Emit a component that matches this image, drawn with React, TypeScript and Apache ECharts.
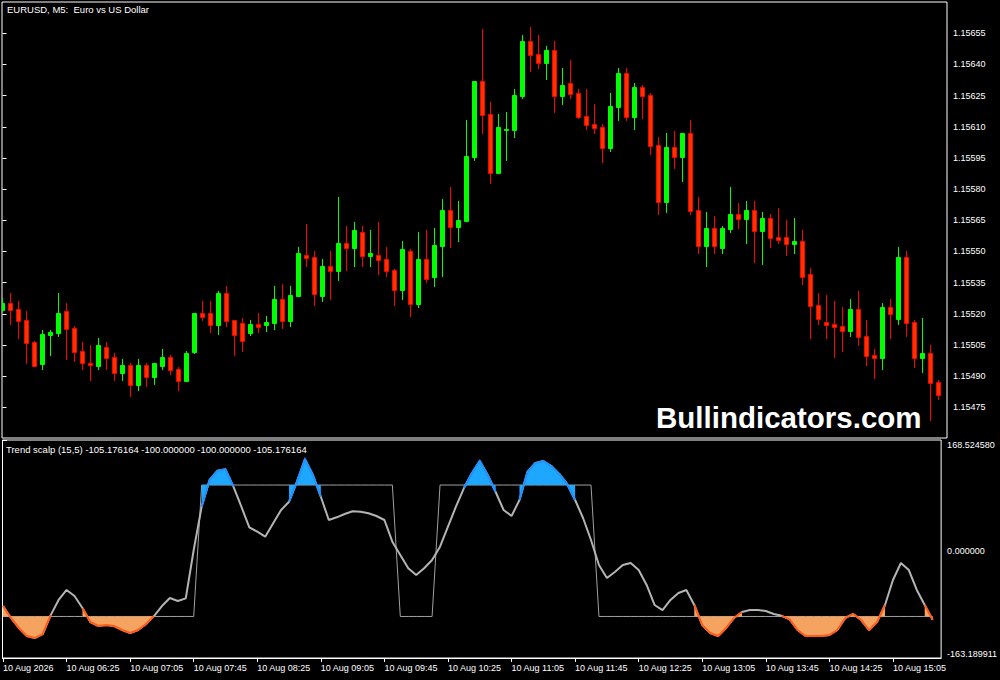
import React, { useEffect, useRef } from "react";
import * as echarts from "echarts";

// ---- price data (M5 bars, 10 Aug 05:45 .. 15:30) ----
const opens = [
  1.155218, 1.155251, 1.155223, 1.15517, 1.155064, 1.15496, 1.1551, 1.155109, 1.155214, 1.155132,
  1.15502, 1.154963, 1.15495, 1.155039, 1.154991, 1.154917, 1.154954, 1.154859, 1.154954, 1.154897,
  1.15495, 1.154992, 1.154934, 1.154878, 1.155018, 1.155204, 1.155204, 1.155148, 1.1553, 1.15517,
  1.155156, 1.155108, 1.155151, 1.155148, 1.155157, 1.155271, 1.155167, 1.155287, 1.155483, 1.155474,
  1.155287, 1.15543, 1.155408, 1.155541, 1.155518, 1.155594, 1.15548, 1.155483, 1.155464, 1.155411,
  1.155316, 1.155502, 1.155249, 1.155464, 1.155379, 1.155528, 1.1557, 1.155619, 1.155648, 1.155956,
  1.156321, 1.156162, 1.155879, 1.156086, 1.156086, 1.15625, 1.156513, 1.156451, 1.156409, 1.15647,
  1.15625, 1.156311, 1.156263, 1.156152, 1.156114, 1.156099, 1.156, 1.156197, 1.156359, 1.156149,
  1.156292, 1.156253, 1.156013, 1.15574, 1.156003, 1.155956, 1.15607, 1.1557, 1.155528, 1.155613,
  1.155518, 1.15561, 1.155681, 1.155658, 1.1557, 1.1556, 1.155661, 1.15557, 1.15557, 1.155538,
  1.155551, 1.155392, 1.155243, 1.155161, 1.155151, 1.155142, 1.155119, 1.155223, 1.155093, 1.155002,
  1.154989, 1.155233, 1.155177, 1.155474, 1.155161, 1.154989, 1.155013, 1.154873,
];
const highs = [
  1.155276, 1.1553, 1.155262, 1.155214, 1.155069, 1.155122, 1.155122, 1.1553, 1.155252, 1.155141,
  1.155064, 1.15505, 1.155084, 1.155064, 1.155012, 1.154983, 1.154963, 1.154983, 1.154963, 1.154963,
  1.155031, 1.155002, 1.154944, 1.155021, 1.155204, 1.155262, 1.155262, 1.15531, 1.155334, 1.15517,
  1.15518, 1.15517, 1.155204, 1.15519, 1.155334, 1.155344, 1.155334, 1.155522, 1.155632, 1.155502,
  1.155464, 1.155502, 1.155762, 1.155623, 1.155642, 1.155623, 1.155604, 1.155642, 1.155522, 1.155417,
  1.155551, 1.155512, 1.155594, 1.155604, 1.155613, 1.155753, 1.15581, 1.155743, 1.156133, 1.156321,
  1.156571, 1.15622, 1.156162, 1.156171, 1.156282, 1.156542, 1.15658, 1.156542, 1.156489, 1.156513,
  1.156383, 1.156422, 1.156282, 1.156282, 1.15621, 1.156114, 1.156263, 1.156383, 1.156383, 1.156311,
  1.156301, 1.156263, 1.156053, 1.15607, 1.15608, 1.15607, 1.156133, 1.155762, 1.15569, 1.155671,
  1.155623, 1.15581, 1.155733, 1.155743, 1.155743, 1.15569, 1.155681, 1.155709, 1.155652, 1.155661,
  1.155604, 1.155421, 1.1553, 1.155291, 1.155262, 1.155233, 1.155271, 1.15531, 1.15517, 1.155031,
  1.155252, 1.155271, 1.155522, 1.155502, 1.15517, 1.15518, 1.155051, 1.154882,
];
const lows = [
  1.155209, 1.155146, 1.155079, 1.15496, 1.154947, 1.154931, 1.154999, 1.15509, 1.154979, 1.15497,
  1.154931, 1.154877, 1.154931, 1.154931, 1.154877, 1.154877, 1.1548, 1.15483, 1.154849, 1.154859,
  1.154931, 1.154907, 1.15483, 1.154877, 1.155008, 1.155167, 1.155108, 1.1551, 1.155138, 1.154999,
  1.155016, 1.155093, 1.155108, 1.155113, 1.155122, 1.155128, 1.155138, 1.155286, 1.155427, 1.155239,
  1.155258, 1.155268, 1.155359, 1.155408, 1.155427, 1.155427, 1.155427, 1.155388, 1.155379, 1.155239,
  1.155268, 1.155186, 1.15523, 1.15535, 1.155331, 1.155379, 1.155518, 1.155547, 1.155648, 1.155937,
  1.156067, 1.155826, 1.155879, 1.155937, 1.156048, 1.156235, 1.156365, 1.15638, 1.156327, 1.156168,
  1.156207, 1.156235, 1.156139, 1.156086, 1.156067, 1.155927, 1.15598, 1.15613, 1.15613, 1.156086,
  1.156139, 1.155966, 1.155677, 1.155687, 1.155899, 1.155836, 1.155677, 1.155489, 1.155427, 1.155489,
  1.155489, 1.15559, 1.15561, 1.155538, 1.155446, 1.155437, 1.155518, 1.155538, 1.15548, 1.155489,
  1.15534, 1.15508, 1.155148, 1.15508, 1.154989, 1.155018, 1.15509, 1.155047, 1.15495, 1.154888,
  1.154931, 1.15508, 1.155148, 1.15509, 1.154941, 1.154917, 1.154683, 1.154787,
];
const closes = [
  1.155252, 1.15522, 1.155167, 1.155061, 1.15495, 1.155103, 1.155111, 1.155204, 1.155128, 1.155018,
  1.154962, 1.154952, 1.15505, 1.154989, 1.154917, 1.154954, 1.154859, 1.154954, 1.154897, 1.154963,
  1.154992, 1.154931, 1.154878, 1.155012, 1.155204, 1.155186, 1.155148, 1.1553, 1.155167, 1.1551,
  1.155069, 1.155151, 1.155138, 1.155161, 1.155271, 1.155167, 1.155291, 1.155493, 1.15547, 1.155297,
  1.15543, 1.155408, 1.155541, 1.155518, 1.155604, 1.15548, 1.155493, 1.155461, 1.155408, 1.155316,
  1.155512, 1.155249, 1.155464, 1.155369, 1.155531, 1.1557, 1.155619, 1.155652, 1.15596, 1.156321,
  1.156158, 1.155879, 1.156099, 1.15609, 1.156253, 1.156513, 1.156447, 1.156409, 1.15647, 1.15625,
  1.156301, 1.156259, 1.156149, 1.15611, 1.156096, 1.156, 1.1562, 1.156359, 1.156149, 1.156292,
  1.15625, 1.156009, 1.15574, 1.156003, 1.155956, 1.15607, 1.155696, 1.155528, 1.155613, 1.155528,
  1.155613, 1.155681, 1.155658, 1.1557, 1.1556, 1.155661, 1.155566, 1.155557, 1.155538, 1.155551,
  1.155379, 1.155239, 1.155177, 1.155148, 1.155138, 1.155119, 1.155223, 1.15509, 1.154999, 1.154989,
  1.155233, 1.155201, 1.155474, 1.155157, 1.154989, 1.155013, 1.154869, 1.154811,
];

// ---- Trend scalp (15,5) indicator ----
const trendValues = [
  -84.1, -102.3, -117.5, -129.7, -132.8, -126.7, -98.0, -74.9, -59.7, -68.9,
  -87.1, -108.4, -114.5, -113.0, -114.5, -120.6, -125.2, -120.6, -111.5, -99.3,
  -84.1, -71.9, -76.5, -72.4, 1.1, 67.0, 107.7, 121.8, 123.9, 97.5,
  67.0, 35.7, 29.0, 21.4, 41.8, 62.0, 74.6, 105.1, 139.2, 115.3,
  82.2, 46.8, 50.9, 55.9, 60.0, 59.4, 57.0, 52.9, 46.8, 13.8,
  -6.5, -26.7, -36.9, -26.7, -14.1, 6.2, 36.6, 67.0, 95.0, 117.8,
  136.6, 115.3, 89.4, 62.0, 52.9, 77.2, 119.8, 133.5, 136.6, 129.0,
  116.8, 101.6, 77.2, 49.8, 16.4, -21.7, -41.5, -32.3, -21.7, -18.6,
  -29.3, -52.1, -82.5, -90.2, -74.9, -64.3, -59.7, -82.5, -113.0, -125.2,
  -129.7, -117.5, -102.3, -93.2, -90.2, -90.2, -91.7, -96.2, -99.0, -104.5,
  -120.6, -129.7, -129.7, -129.7, -128.2, -120.6, -102.3, -96.2, -105.4, -120.6,
  -108.4, -82.5, -44.5, -18.6, -29.3, -59.7, -82.5, -105.176164,
];
const squareValues = [
  -100, -100, -100, -100, -100, -100, -100, -100, -100, -100,
  -100, -100, -100, -100, -100, -100, -100, -100, -100, -100,
  -100, -100, -100, -100, -100, 100, 100, 100, 100, 100,
  100, 100, 100, 100, 100, 100, 100, 100, 100, 100,
  100, 100, 100, 100, 100, 100, 100, 100, 100, 100,
  -100, -100, -100, -100, -100, 100, 100, 100, 100, 100,
  100, 100, 100, 100, 100, 100, 100, 100, 100, 100,
  100, 100, 100, 100, 100, -100, -100, -100, -100, -100,
  -100, -100, -100, -100, -100, -100, -100, -100, -100, -100,
  -100, -100, -100, -100, -100, -100, -100, -100, -100, -100,
  -100, -100, -100, -100, -100, -100, -100, -100, -100, -100,
  -100, -100, -100, -100, -100, -100, -100, -100,
];
const upperLevel = 100;
const lowerLevel = -100;

// ---- axis ticks ----
const timeTickBars = [0, 8, 16, 24, 32, 40, 48, 56, 64, 72, 80, 88, 96, 104, 112];
const timeTickLabels = [
  "10 Aug 2026", "10 Aug 06:25", "10 Aug 07:05", "10 Aug 07:45", "10 Aug 08:25",
  "10 Aug 09:05", "10 Aug 09:45", "10 Aug 10:25", "10 Aug 11:05", "10 Aug 11:45",
  "10 Aug 12:25", "10 Aug 13:05", "10 Aug 13:45", "10 Aug 14:25", "10 Aug 15:05",
];
const priceTicks = [
  1.15475, 1.1549, 1.15505, 1.1552, 1.15535, 1.1555, 1.15565, 1.1558, 1.15595, 1.1561,
  1.15625, 1.1564, 1.15655,
];
const priceMin = 1.1546024;
const priceMax = 1.1567008;
const oscMin = -163.189911;
const oscMax = 168.52458;
const oscTicks = [-163.189911, 0, 168.52458];

const FONT = "'Liberation Sans', Arial, sans-serif";

// contiguous runs of segments where the line is beyond a level
function runsBeyond(values: number[], test: (v: number) => boolean): number[][] {
  const runs: number[][] = [];
  let start = -1;
  for (let i = 0; i < values.length - 1; i++) {
    const on = test(values[i]) || test(values[i + 1]);
    if (on && start < 0) start = i;
    if (!on && start >= 0) {
      runs.push([start, i - 1]);
      start = -1;
    }
  }
  if (start >= 0) runs.push([start, values.length - 2]);
  return runs;
}

export default function App() {
  const ref = useRef<HTMLDivElement>(null);
  useEffect(() => {
    if (!ref.current) return;
    const chart = echarts.init(ref.current, undefined, { renderer: "svg" });
    const n = opens.length;
    const candleData = opens.map((o, i) => [i, o, closes[i], lows[i], highs[i]]);
    const upRuns = runsBeyond(trendValues, (v) => v > upperLevel);
    const dnRuns = runsBeyond(trendValues, (v) => v < lowerLevel);

    const fillRender = (level: number, fill: string, edge: string) => (params: any, api: any) => {
      const s = api.value(0);
      const e = api.value(1);
      const curve: number[][] = [];
      for (let i = s; i <= e + 1; i++) curve.push(api.coord([i, trendValues[i]]));
      const base = [api.coord([e + 1, level]), api.coord([s, level])];
      return {
        type: "group",
        children: [
          {
            type: "polygon",
            shape: { points: curve.concat(base) },
            style: { fill },
          },
          {
            type: "polyline",
            shape: { points: curve },
            style: { stroke: edge, lineWidth: 2, fill: "none" },
          },
        ],
      };
    };
    const xBase = {
      type: "value",
      min: -0.0625,
      max: n + 0.0625,
      axisLine: { show: false },
      axisTick: { show: false },
      axisLabel: { show: false },
      splitLine: { show: false },
    };
    chart.setOption({
      animation: false,
      backgroundColor: "#000000",
      grid: [
        { left: 2, top: 2, width: 945, height: 436, show: true, borderColor: "#ffffff", borderWidth: 1, backgroundColor: "#000000" },
        { left: 2, top: 440, width: 945, height: 218, show: true, borderColor: "#ffffff", borderWidth: 1, backgroundColor: "#000000" },
      ],
      xAxis: [
        { ...xBase, gridIndex: 0 },
        {
          ...xBase,
          gridIndex: 1,
          position: "bottom",
          axisLine: { show: true, onZero: false, lineStyle: { color: "#ffffff", width: 1 } },
          axisTick: { show: true, customValues: timeTickBars, length: 4, lineStyle: { color: "#ffffff" } },
          axisLabel: {
            show: true,
            customValues: timeTickBars,
            formatter: (v: number) => timeTickLabels[timeTickBars.indexOf(Math.round(v))] ?? "",
            color: "#ffffff",
            fontSize: 9,
            fontFamily: FONT,
            align: "left",
            margin: 5,
          },
        },
      ],
      yAxis: [
        {
          type: "value",
          gridIndex: 0,
          position: "right",
          min: priceMin,
          max: priceMax,
          axisLine: { show: false },
          splitLine: { show: false },
          axisTick: { show: true, customValues: priceTicks, length: 4, lineStyle: { color: "#ffffff" } },
          axisLabel: {
            customValues: priceTicks,
            formatter: (v: number) => v.toFixed(5),
            color: "#ffffff",
            fontSize: 9,
            fontFamily: FONT,
            margin: 6,
          },
        },
        {
          type: "value",
          gridIndex: 1,
          position: "right",
          min: oscMin,
          max: oscMax,
          axisLine: { show: false },
          splitLine: { show: false },
          axisTick: { show: true, customValues: [oscMin, oscMax], length: 4, lineStyle: { color: "#ffffff" } },
          axisLabel: {
            customValues: oscTicks,
            formatter: (v: number) => v.toFixed(6),
            color: "#ffffff",
            fontSize: 9,
            fontFamily: FONT,
            margin: 6,
            verticalAlignMinLabel: "bottom",
            verticalAlignMaxLabel: "top",
          },
        },
      ],
      series: [
        {
          type: "custom",
          xAxisIndex: 0,
          yAxisIndex: 0,
          clip: true,
          data: candleData,
          renderItem: (params: any, api: any) => {
            const i = api.value(0);
            const o = api.value(1);
            const c = api.value(2);
            const l = api.value(3);
            const h = api.value(4);
            const pO = api.coord([i, o]);
            const pC = api.coord([i, c]);
            const pL = api.coord([i, l]);
            const pH = api.coord([i, h]);
            const x = Math.floor(pO[0]) + 0.5;
            const up = c >= o;
            const stroke = up ? "#00ff00" : "#ff0000";
            const fill = up ? "#00ff00" : "#ff3300";
            const top = Math.round(Math.min(pO[1], pC[1]));
            const bot = Math.round(Math.max(pO[1], pC[1]));
            return {
              type: "group",
              children: [
                {
                  type: "line",
                  shape: { x1: x, y1: Math.round(pH[1]), x2: x, y2: Math.round(pL[1]) },
                  style: { stroke, lineWidth: 1 },
                },
                {
                  type: "rect",
                  shape: { x: x - 2, y: top + 0.5, width: 4, height: Math.max(bot - top, 1) },
                  style: { fill, stroke, lineWidth: 1 },
                },
              ],
            };
          },
        },
        {
          type: "line",
          xAxisIndex: 1,
          yAxisIndex: 1,
          data: squareValues.map((v, i) => [i, v]),
          showSymbol: false,
          lineStyle: { color: "#a0a0a0", width: 1 },
          z: 2,
        },
        {
          type: "line",
          xAxisIndex: 1,
          yAxisIndex: 1,
          data: trendValues.map((v, i) => [i, v]),
          showSymbol: false,
          lineStyle: { color: "#b4b4b4", width: 2 },
          z: 3,
        },
        {
          type: "custom",
          xAxisIndex: 1,
          yAxisIndex: 1,
          clip: true,
          data: upRuns,
          renderItem: fillRender(upperLevel, "#1ea7ff", "#1e90ff"),
          z: 4,
        },
        {
          type: "custom",
          xAxisIndex: 1,
          yAxisIndex: 1,
          clip: true,
          data: dnRuns,
          renderItem: fillRender(lowerLevel, "#f4a460", "#ff5a1a"),
          z: 4,
        },
      ],
      graphic: [
        {
          type: "text",
          x: 7,
          y: 9.5,
          style: { text: "EURUSD, M5:  Euro vs US Dollar", fill: "#ffffff", fontSize: 9.5, fontFamily: FONT, verticalAlign: "middle" },
        },
        {
          type: "text",
          x: 6,
          y: 449.5,
          style: {
            text: "Trend scalp (15,5) -105.176164 -100.000000 -100.000000 -105.176164",
            fill: "#ffffff",
            fontSize: 9.5,
            fontFamily: FONT,
            verticalAlign: "middle",
          },
        },
        {
          type: "text",
          x: 656,
          y: 417,
          style: {
            text: "Bullindicators.com",
            fill: "#ffffff",
            fontSize: 29.5,
            fontWeight: "bold",
            fontFamily: FONT,
            verticalAlign: "middle",
          },
        },
      ],
    });
    return () => chart.dispose();
  }, []);
  return (
    <div
      ref={ref}
      style={{ position: "fixed", left: 0, top: 0, width: 1000, height: 680, background: "#000" }}
    />
  );
}
